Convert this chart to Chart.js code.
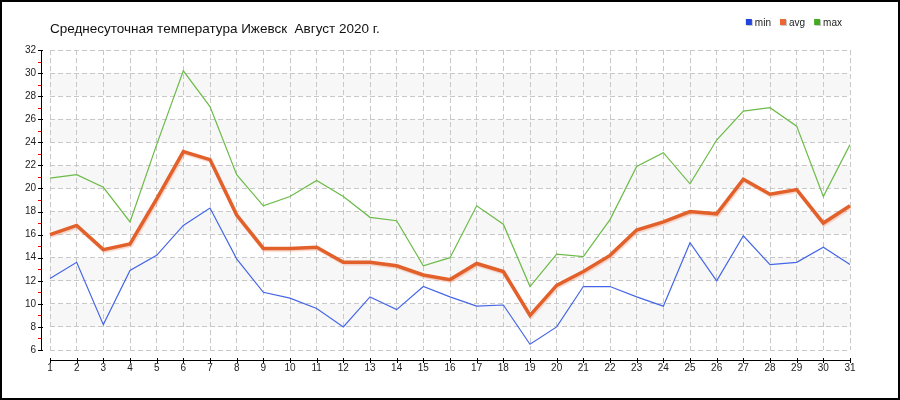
<!DOCTYPE html>
<html>
<head>
<meta charset="utf-8">
<script src="https://cdn.jsdelivr.net/npm/chart.js@4"></script>
<style>
  html, body { margin: 0; padding: 0; background: #fff; }
  #wrap { width: 900px; height: 400px; position: relative; }
</style>
</head>
<body>
<div id="wrap"><canvas id="chart1" width="900" height="400"></canvas></div>
<script>
const days = ['1','2','3','4','5','6','7','8','9','10','11','12','13','14','15','16',
              '17','18','19','20','21','22','23','24','25','26','27','28','29','30','31'];
const minTemp = [12.2, 13.6, 8.2, 12.9, 14.2, 16.8, 18.3, 13.9, 11.0, 10.5, 9.6, 8.0, 10.6, 9.5, 11.5, 10.6,
                 9.8, 9.9, 6.5, 8.0, 11.5, 11.5, 10.6, 9.8, 15.3, 12.0, 15.9, 13.4, 13.6, 14.9, 13.4];
const avgTemp = [16.0, 16.8, 14.7, 15.2, 19.1, 23.2, 22.5, 17.7, 14.8, 14.8, 14.9, 13.6, 13.6, 13.3, 12.5, 12.1,
                 13.5, 12.8, 9.0, 11.6, 12.8, 14.2, 16.4, 17.1, 18.0, 17.8, 20.8, 19.5, 19.9, 17.0, 18.5];
const maxTemp = [20.9, 21.2, 20.1, 17.1, 23.8, 30.2, 27.1, 21.2, 18.5, 19.3, 20.7, 19.3, 17.5, 17.2, 13.3, 14.0,
                 18.5, 16.9, 11.5, 14.3, 14.1, 17.3, 21.9, 23.1, 20.4, 24.2, 26.7, 27.0, 25.4, 19.3, 23.8];
const yMin = 6, yMax = 32, yStep = 2;
const title = 'Среднесуточная температура Ижевск  Август 2020 г.';
const legendColors = ['#2244dd', '#ee6633', '#44aa22'];

const FONT = "'Liberation Sans', Arial, sans-serif";

const decor = {
    id: 'decor',
    beforeDraw(chart) {
        const ctx = chart.ctx, y = chart.scales.y, a = chart.chartArea;
        ctx.save();
        ctx.fillStyle = '#fff';
        ctx.fillRect(0, 0, chart.width, chart.height);
        // alternating bands
        ctx.fillStyle = '#f7f7f7';
        for (let v = yMin + 2; v < yMax; v += 4) {
            const top = y.getPixelForValue(v + 2), bot = y.getPixelForValue(v);
            ctx.fillRect(a.left, top, a.right - a.left, bot - top);
        }
        ctx.restore();
    },
    beforeDatasetDraw(chart, args) {
        if (args.index === 1) {
            const ctx = chart.ctx;
            ctx.save();
            ctx.shadowColor = 'rgba(240,150,120,0.4)';
            ctx.shadowOffsetX = 1;
            ctx.shadowOffsetY = 1.5;
            ctx.shadowBlur = 1;
        }
    },
    afterDatasetDraw(chart, args) {
        if (args.index === 1) chart.ctx.restore();
    },
    afterDraw(chart) {
        const ctx = chart.ctx, x = chart.scales.x, y = chart.scales.y, a = chart.chartArea;
        ctx.save();
        // y axis
        const ax = a.left - 9;
        ctx.strokeStyle = '#000';
        ctx.lineWidth = 1;
        ctx.beginPath();
        ctx.moveTo(ax + 0.5, a.top);
        ctx.lineTo(ax + 0.5, a.bottom + 1);
        for (let v = yMin; v <= yMax; v += yStep) {
            const py = Math.round(y.getPixelForValue(v)) + 0.5;
            ctx.moveTo(ax - 3, py);
            ctx.lineTo(ax + 2, py);
        }
        ctx.stroke();
        ctx.strokeStyle = '#e00';
        ctx.beginPath();
        for (let v = yMin + 1; v < yMax; v += yStep) {
            const py = Math.round(y.getPixelForValue(v)) + 0.5;
            ctx.moveTo(ax - 3, py);
            ctx.lineTo(ax, py);
        }
        ctx.stroke();
        // x axis
        const ay = a.bottom + 10;
        ctx.strokeStyle = '#000';
        ctx.beginPath();
        ctx.moveTo(a.left, ay + 0.5);
        ctx.lineTo(a.right + 1, ay + 0.5);
        for (let i = 0; i < days.length; i++) {
            const px = Math.round(x.getPixelForValue(i)) + 0.5;
            ctx.moveTo(px, ay - 2);
            ctx.lineTo(px, ay + 3);
        }
        ctx.stroke();
        // frame
        ctx.lineWidth = 2;
        ctx.strokeRect(1, 1, chart.width - 2, chart.height - 2);
        // title
        ctx.fillStyle = '#111';
        ctx.font = '13.5px ' + FONT;
        ctx.textBaseline = 'alphabetic';
        ctx.textAlign = 'left';
        ctx.fillText(title, 50, 33);
        // legend
        ctx.font = '10px ' + FONT;
        ctx.textBaseline = 'middle';
        const items = chart.data.datasets.map(d => d.label);
        let widths = items.map(t => 6 + 3 + ctx.measureText(t).width);
        let lx = 842 - widths.reduce((s, w) => s + w, 0) - 9 * (items.length - 1);
        items.forEach((t, i) => {
            ctx.fillStyle = '#c8c8c8';
            ctx.fillRect(lx + 1, 20, 6, 6);
            ctx.fillStyle = legendColors[i];
            ctx.fillRect(lx, 19, 6, 6);
            ctx.fillStyle = '#222';
            ctx.fillText(t, lx + 9, 23);
            lx += widths[i] + 9;
        });
        ctx.restore();
    }
};

new Chart(document.getElementById('chart1').getContext('2d'), {
    type: 'line',
    data: {
        labels: days,
        datasets: [
            { label: 'min', data: minTemp, borderColor: '#4466e6', borderWidth: 1.2 },
            { label: 'avg', data: avgTemp, borderColor: '#e2602a', borderWidth: 3.5 },
            { label: 'max', data: maxTemp, borderColor: '#6cbb48', borderWidth: 1.2 }
        ]
    },
    options: {
        responsive: false,
        animation: false,
        layout: { padding: { top: 50, left: 0, right: 50, bottom: 0 } },
        elements: {
            point: { radius: 0, hoverRadius: 0 },
            line: { tension: 0, fill: false }
        },
        plugins: {
            legend: { display: false },
            title: { display: false },
            tooltip: { enabled: false }
        },
        scales: {
            x: {
                offset: false,
                grid: { color: '#c8c8c8', drawTicks: false, lineWidth: 1 },
                border: { display: false, dash: [5, 3] },
                ticks: { color: '#222', font: { family: FONT, size: 10 }, padding: 12,
                         maxRotation: 0, autoSkip: false },
                afterFit(scale) { scale.height = 50; }
            },
            y: {
                min: yMin,
                max: yMax,
                grid: { color: '#c8c8c8', drawTicks: false, lineWidth: 1 },
                border: { display: false, dash: [5, 3] },
                ticks: { stepSize: yStep, color: '#222', font: { family: FONT, size: 10 }, padding: 14 },
                afterFit(scale) { scale.width = 50; }
            }
        }
    },
    plugins: [decor]
});
</script>
</body>
</html>
